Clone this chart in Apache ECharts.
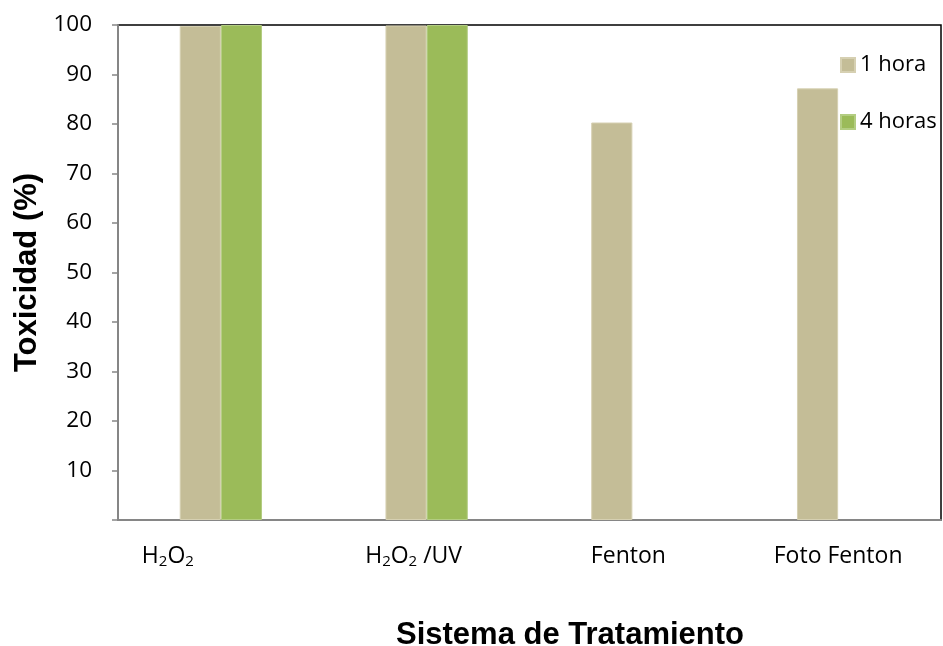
<!DOCTYPE html>
<html><head><meta charset="utf-8">
<script src="https://cdn.jsdelivr.net/npm/echarts@6/dist/echarts.min.js"></script>
<style>html,body{margin:0;padding:0;background:#fff}#c{width:943px;height:646px}</style>
</head><body><div id="c"></div>
<script>
var categories = ['{a|H}{s|2}{a|O}{s|2}', '{a|H}{s|2}{a|O}{s|2}{a| /UV}', '{a|Fenton}', '{a|Foto Fenton}'];
var seriesNames = ['1 hora', '4 horas'];
var hora1 = [99.8, 99.9, 80.3, 87.2];
var horas4 = [100, 100, null, null];
var yTicks = [10, 20, 30, 40, 50, 60, 70, 80, 90, 100];
var labelShiftRight = [106, 26, 8, 0];

var font = '"Open Sans", sans-serif';
var chart = echarts.init(document.getElementById('c'));
chart.setOption({
  animation: false,
  grid: {left: 118, right: 2, top: 25, bottom: 126, outerBoundsMode: 'none', containLabel: false,
         show: true, borderColor: '#000', borderWidth: 1.5, backgroundColor: 'transparent'},
  legend: {
    data: seriesNames, orient: 'vertical', left: 835, top: 49, itemWidth: 14, itemHeight: 14, itemGap: 35,
    icon: 'rect', textStyle: {fontFamily: font, fontSize: 22, color: '#000'}
  },
  xAxis: {
    type: 'category',
    data: categories.map(function (c, i) { return {value: c, textStyle: {padding: [0, labelShiftRight[i], 0, 0]}}; }),
    name: 'Sistema de Tratamiento', nameLocation: 'middle', nameGap: 100,
    nameTextStyle: {fontFamily: 'Liberation Sans, Arial', fontWeight: 'bold', fontSize: 31, color: '#000', padding: [0, 0, 0, 81]},
    axisLine: {lineStyle: {color: '#868686', width: 2}},
    axisTick: {show: false},
    axisLabel: {
      margin: 20, color: '#000',
      rich: {
        a: {fontFamily: font, fontSize: 23, color: '#000', lineHeight: 32},
        s: {fontFamily: font, fontSize: 15, color: '#000', lineHeight: 20, padding: [12, 0, 0, 0]}
      }
    }
  },
  yAxis: {
    type: 'value', min: 0, max: 100, interval: 10,
    name: 'Toxicidad (%)', nameLocation: 'middle', nameGap: 75,
    nameTextStyle: {fontFamily: 'Liberation Sans, Arial', fontWeight: 'bold', fontSize: 31, color: '#000'},
    axisLine: {show: true, lineStyle: {color: '#868686', width: 2}},
    axisTick: {show: true, length: 6, lineStyle: {color: '#868686', width: 1.5}},
    splitLine: {show: false},
    axisLabel: {
      margin: 26, fontFamily: font, fontSize: 22.5, color: '#000',
      formatter: function (v) { return yTicks.indexOf(v) >= 0 ? String(v) : ''; }
    }
  },
  series: [
    {name: seriesNames[0], type: 'bar', data: hora1, barGap: '0%', barCategoryGap: '60%',
     itemStyle: {color: '#C4BD97', borderColor: '#D6D0B2', borderWidth: 1}},
    {name: seriesNames[1], type: 'bar', data: horas4,
     itemStyle: {color: '#9BBB59', borderColor: '#B3CD82', borderWidth: 1}}
  ]
});
</script></body></html>
